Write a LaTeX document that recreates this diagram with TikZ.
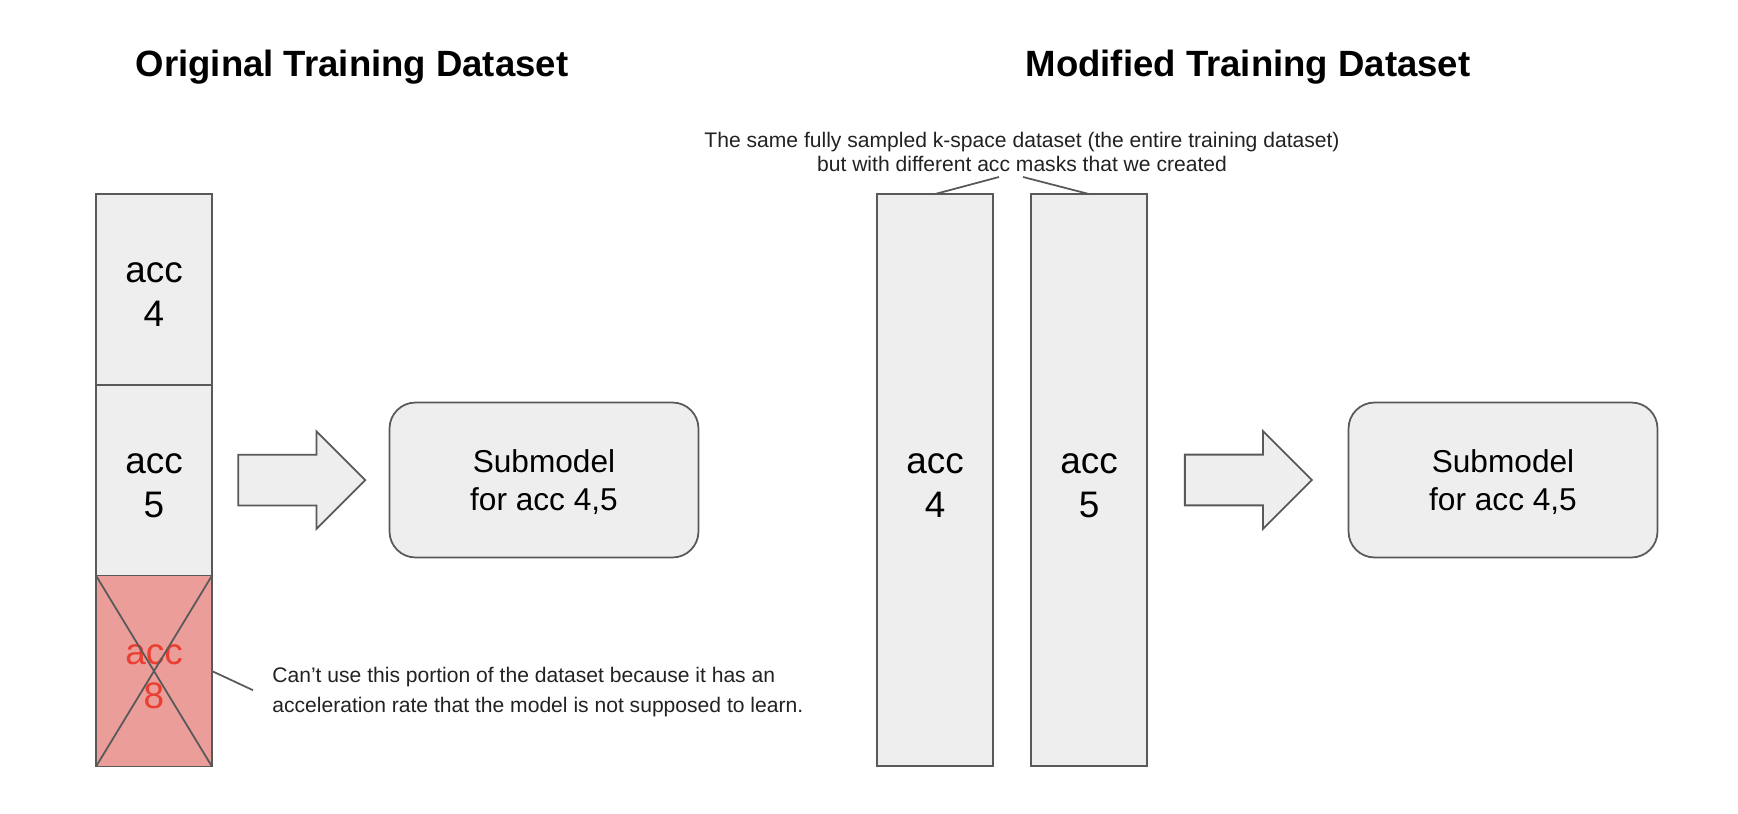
\documentclass[tikz,border=0pt]{standalone}
\usepackage{fontspec}
\setmainfont{Liberation Sans}
\usetikzlibrary{positioning,calc,shapes.arrows}
\definecolor{cellfill}{RGB}{238,238,238}
\definecolor{edge}{RGB}{89,89,89}
\definecolor{badfill}{RGB}{234,157,153}
\definecolor{badtext}{RGB}{234,62,48}
\definecolor{note}{RGB}{34,34,34}

\tikzset{
  cell/.style={draw=edge, fill=cellfill, line width=1pt, inner sep=0pt, outer sep=0pt, minimum width=2.32cm,
    align=center, font=\fontsize{21}{25}\selectfont},
  badcell/.style={cell, fill=badfill, text=badtext},
  submodel/.style={draw=edge, fill=cellfill, line width=1pt, rounded corners=0.52cm, minimum width=6.18cm,
    minimum height=3.1cm, align=center, font=\fontsize{18}{22}\selectfont},
  blockarrow/.style={single arrow, draw=edge, fill=cellfill, line width=1pt, inner xsep=0pt, inner ysep=0.49cm,
    minimum height=2.54cm, single arrow head extend=0.47cm,
    single arrow tip angle=90, single arrow head indent=0pt, anchor=tail},
  heading/.style={font=\fontsize{20.8}{24}\selectfont\bfseries},
  remark/.style={text=note, align=left, inner sep=0pt, font=\fontsize{12}{17}\selectfont},
  leader/.style={draw=edge, line width=1pt}
}

\begin{document}
\begin{tikzpicture}[x=0.02cm, y=-0.02cm]
  \useasboundingbox (0,0) rectangle (1738,814);
  % ---------------------------------------------------------------- original dataset
  \node[heading] (title1) at (352,67.5) {Original Training Dataset};
  \node[cell, minimum height=3.814cm] (acc4) at (154,289.3) {\strut acc\\4};
  \node[cell, minimum height=3.82cm, below=0pt of acc4] (acc5) {\strut acc\\5};
  \node[badcell, minimum height=3.82cm, below=0pt of acc5] (acc8) {\strut acc\\8};
  \draw[leader] (acc8.north west) -- (acc8.south east);
  \draw[leader] (acc8.north east) -- (acc8.south west);
  \node[remark, anchor=west] (why) at (272,691.7)
       {Can’t use this portion of the dataset because it has an\\ acceleration rate that the model is not supposed to learn.};
  \draw[leader] (acc8.east) -- ([xshift=-0.38cm, yshift=0.03cm]why.west);
  \node[submodel] (sub1) at (544,480) {\strut Submodel\\ for acc 4,5};
  \node[blockarrow] (arrow1) at ([xshift=0.51cm]acc5.east) {};
  % ---------------------------------------------------------------- modified dataset
  \node[heading] (title2) at (1248,67.5) {Modified Training Dataset};
  \node[cell, minimum height=11.44cm] (colA) at (935,480) {\strut acc\\4};
  \node[cell, minimum height=11.44cm] (colB) at (1089,480) {\strut acc\\5};
  \node[remark, align=center, font=\fontsize{12}{13.9}\selectfont] (same) at (1022,152)
       {The same fully sampled k-space dataset (the entire training dataset)\\ but with different acc masks that we created};
  \coordinate (tipL) at (999,177);
  \coordinate (tipR) at (1023,177);
  \draw[leader] (colA.north) -- (tipL);
  \draw[leader] (colB.north) -- (tipR);
  \node[submodel] (sub2) at (1503,480) {\strut Submodel\\ for acc 4,5};
  \node[blockarrow] (arrow2) at ([xshift=0.74cm]colB.east) {};
\end{tikzpicture}
\end{document}
